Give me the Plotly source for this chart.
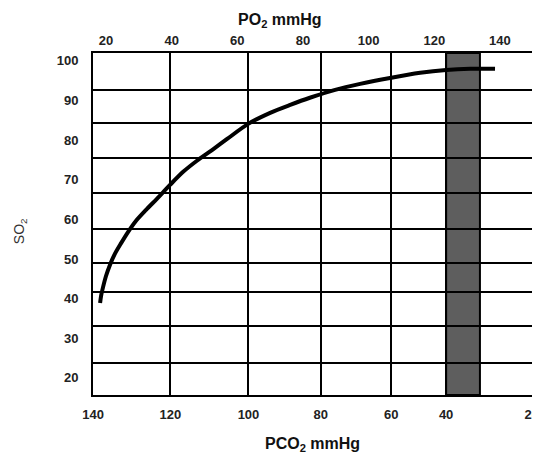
import plotly.graph_objects as go

# Oxygen dissociation curve: SO2 (%) vs PO2 (mmHg)
po2_curve = [18.2, 18.5, 19.1, 20.0, 21.2, 22.7, 24.6, 26.7, 29.1, 32.2, 35.5,
             39.5, 43.5, 47.7, 52.3, 56.9, 63.3, 70.0, 76.1, 82.1, 89.8, 97.4,
             106.5, 115.7, 123.6, 130.9, 138.5]
so2_curve = [38.9, 40.7, 42.9, 45.7, 48.5, 51.3, 54.0, 56.8, 59.6, 62.4, 65.2,
             68.7, 72.0, 74.8, 77.5, 80.3, 84.1, 86.9, 88.9, 90.7, 92.7, 94.2,
             95.7, 97.0, 97.7, 98.0, 98.0]

# Top axis (PO2) tick labels
po2_ticks = [20, 40, 60, 80, 100, 120, 140]

# Left axis (SO2) tick labels
so2_ticks = [20, 30, 40, 50, 60, 70, 80, 90, 100]

# Bottom axis (PCO2) labels and where they sit along the PO2 scale of the drawing
pco2_labels = ["140", "120", "100", "80", "60", "40", "20"]
pco2_pos_po2 = [16.05, 39.6, 63.4, 85.4, 106.9, 123.6, 149.7]

# Horizontal grid rows of the drawing, expressed in SO2 units
so2_grid = [23.7, 33.1, 41.7, 49.0, 57.6, 66.7, 75.5, 84.3, 92.7]

# Shaded normal-range band (in PO2 units)
band_po2 = [123.6, 133.9]

x_range = [16.04, 149.76]
y_range = [15.66, 102.0]

FAM = "Liberation Sans, Arial, sans-serif"
tick_font = dict(family=FAM, size=13, color="#222222", weight="bold")
title_font = dict(family=FAM, size=16, color="#111111", weight="bold")

fig = go.Figure()
fig.add_trace(go.Scatter(
    x=po2_curve, y=so2_curve, mode="lines",
    line=dict(color="black", width=4, shape="spline", smoothing=0.8),
    hoverinfo="skip", showlegend=False,
))
# empty traces so that the overlaid top axis and the grid axis get drawn
fig.add_trace(go.Scatter(x=[None], y=[None], xaxis="x2", yaxis="y",
                         mode="lines", hoverinfo="skip", showlegend=False))
fig.add_trace(go.Scatter(x=[None], y=[None], xaxis="x", yaxis="y2",
                         mode="lines", hoverinfo="skip", showlegend=False))

fig.add_shape(type="rect", xref="x", yref="y domain",
              x0=band_po2[0], x1=band_po2[1], y0=0, y1=1,
              fillcolor="#5e5e5e", line=dict(color="black", width=2), layer="below")

# the page body adds an 8 px offset, so margins are shifted accordingly
fig.update_layout(
    width=540, height=454,
    margin=dict(l=85, r=16, t=45, b=67, autoexpand=False),
    paper_bgcolor="white", plot_bgcolor="white",
    showlegend=False,
    xaxis=dict(
        range=x_range, side="bottom", automargin=False,
        tickmode="array", tickvals=pco2_pos_po2, ticktext=pco2_labels,
        showgrid=True, gridcolor="black", gridwidth=2,
        showline=True, linecolor="black", linewidth=2, mirror=True,
        ticks="", tickfont=tick_font, ticklabelstandoff=6,
        zeroline=False, fixedrange=True,
    ),
    xaxis2=dict(
        range=x_range, overlaying="x", side="top", anchor="y", automargin=False,
        tickmode="array", tickvals=po2_ticks,
        showgrid=False, showline=False, ticks="",
        tickfont=tick_font, ticklabelstandoff=4, zeroline=False,
    ),
    yaxis=dict(
        range=y_range, tickmode="array", tickvals=so2_ticks, automargin=False,
        showgrid=False, showline=True, linecolor="black", linewidth=2, mirror=True,
        ticks="", tickfont=tick_font, ticklabelstandoff=10, zeroline=False,
    ),
    yaxis2=dict(
        range=y_range, overlaying="y", anchor="x", side="left", automargin=False,
        tickmode="array", tickvals=so2_grid, showticklabels=False,
        showgrid=True, gridcolor="black", gridwidth=2,
        showline=False, ticks="", zeroline=False,
    ),
)

fig.add_annotation(text="PO<sub>2</sub> mmHg", xref="paper", yref="paper",
                   x=0.426, y=1.0936, showarrow=False, font=title_font,
                   xanchor="center", yanchor="middle")
fig.add_annotation(text="PCO<sub>2</sub> mmHg", xref="paper", yref="paper",
                   x=0.501, y=-0.146, showarrow=False, font=title_font,
                   xanchor="center", yanchor="middle")
fig.add_annotation(text="SO<sub>2</sub>", xref="paper", yref="paper",
                   x=-0.166, y=0.4795, showarrow=False,
                   font=dict(family=FAM, size=14, color="#333333"),
                   textangle=-90, xanchor="center", yanchor="middle")

fig.write_html("out.html")
